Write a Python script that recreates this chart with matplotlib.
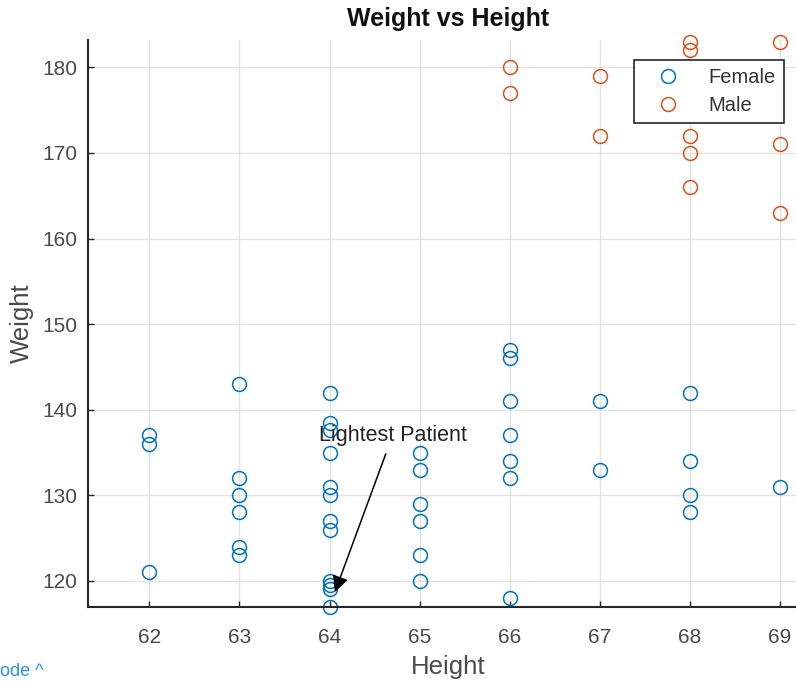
import matplotlib
matplotlib.use('Agg')
import matplotlib.pyplot as plt

plt.rcParams['font.family'] = ['Liberation Sans', 'DejaVu Sans']

# data
f_height = [62, 62, 62,
            63, 63, 63, 63, 63, 63,
            64, 64, 64, 64, 64, 64, 64, 64, 64, 64, 64, 64,
            65, 65, 65, 65, 65, 65,
            66, 66, 66, 66, 66, 66, 66,
            67, 67,
            68, 68, 68, 68,
            69]
f_weight = [137, 136, 121,
            143, 132, 130, 128, 124, 123,
            142, 138.4, 137.6, 135, 131, 130, 127, 126, 120, 119.5, 119, 117,
            135, 133, 129, 127, 123, 120,
            147, 146, 141, 137, 134, 132, 118,
            141, 133,
            142, 134, 130, 128,
            131]
m_height = [66, 66, 67, 67, 68, 68, 68, 68, 68, 69, 69, 69]
m_weight = [180, 177, 179, 172, 183, 182, 172, 170, 166, 183, 171, 163]

x_ticks = [62, 63, 64, 65, 66, 67, 68, 69]
y_ticks = [120, 130, 140, 150, 160, 170, 180]

blue = '#0072BD'
orange = '#D95319'
axcol = '#262626'

fig = plt.figure(figsize=(7.96, 6.81), dpi=100)
ax = fig.add_axes([88/796, 74/681, 720/796, 567/681])

ax.plot(f_height, f_weight, 'o', mfc='none', mec=blue, ms=10, mew=1.1, label='Female', clip_on=False)
ax.plot(m_height, m_weight, 'o', mfc='none', mec=orange, ms=10, mew=1.1, label='Male', clip_on=False)

ax.set_xlim(61.32, 69.31)
ax.set_ylim(116.95, 183.2)
ax.set_xticks(x_ticks)
ax.set_yticks(y_ticks)
ax.grid(True, color='#e3e3e3', lw=1)
ax.set_axisbelow(True)

for s in ['top', 'right']:
    ax.spines[s].set_visible(False)
for s in ['left', 'bottom']:
    ax.spines[s].set_color(axcol)
    ax.spines[s].set_linewidth(1.5)
ax.tick_params(direction='in', length=4, width=1, color=axcol, labelcolor='#4a4a4a',
               labelsize=15)
ax.tick_params(axis='x', pad=15)
ax.tick_params(axis='y', pad=8)

ax.set_xlabel('Height', fontsize=18.5, color='#4a4a4a', labelpad=6)
ax.set_ylabel('Weight', fontsize=18.5, color='#4a4a4a', labelpad=6)
ax.set_title('Weight vs Height', fontsize=18, fontweight='bold', color='#111111', pad=10)

ax.annotate('Lightest Patient', xy=(64.06, 118.7), xytext=(64.7, 137.0),
            ha='center', va='center', fontsize=15.5, color='#222222',
            arrowprops=dict(arrowstyle='-|>', color='k', lw=1.1, mutation_scale=24,
                            shrinkA=4, shrinkB=0))

leg = ax.legend(loc='upper left', bbox_to_anchor=(634/796, 1 - 60/681),
                bbox_transform=fig.transFigure, borderaxespad=0, fancybox=False,
                fontsize=14.5, handletextpad=0.7, borderpad=0.4, labelspacing=0.45,
                handlelength=2.6)
leg.get_frame().set_edgecolor('#262626')
leg.get_frame().set_linewidth(1.2)
leg.get_frame().set_alpha(1)
for t in leg.get_texts():
    t.set_color('#333333')

fig.text(0.0, 0.002, 'ode ^', color='#2a8ff0', fontsize=13, ha='left', va='bottom')

fig.savefig('out.png', dpi=100)
